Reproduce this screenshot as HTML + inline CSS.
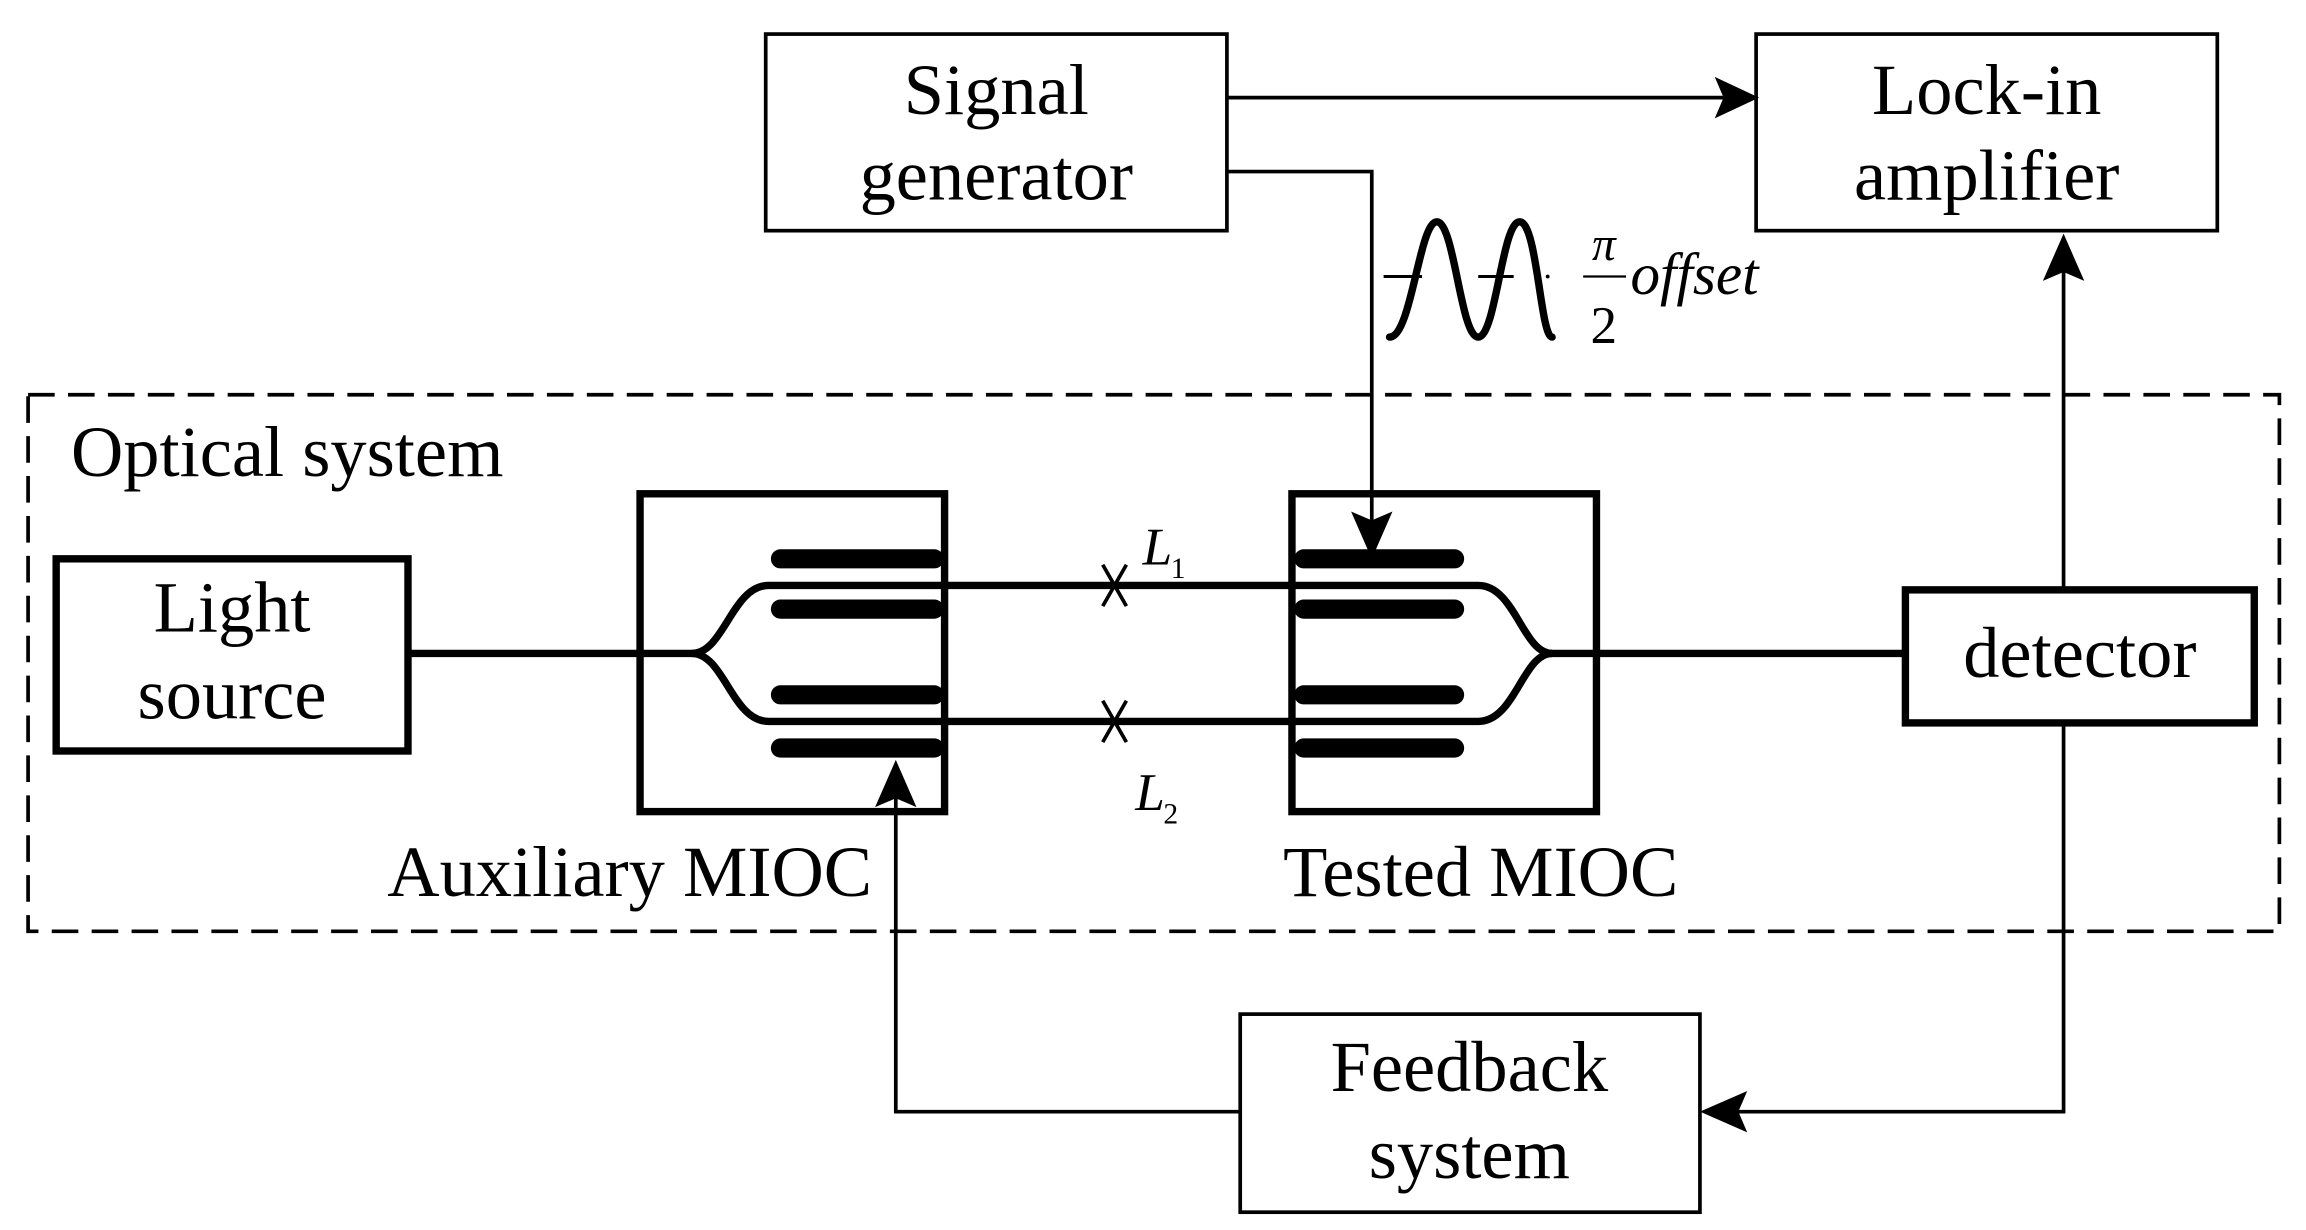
<!DOCTYPE html>
<html><head><meta charset="utf-8"><style>
html,body{margin:0;padding:0;background:#fff;}
svg{display:block;}
text{font-family:"Liberation Serif",serif;fill:#000;}
</style></head><body>
<svg width="2306" height="1230" viewBox="0 0 1560 832" xmlns="http://www.w3.org/2000/svg">
<rect width="1560" height="832" fill="#fff"/>
<!-- dashed optical system -->
<rect x="19" y="267" width="1523" height="363" fill="none" stroke="#000" stroke-width="2.5" stroke-dasharray="18,9"/>
<text x="48" y="322" font-size="49">Optical system</text>

<!-- Signal generator -->
<rect x="518" y="23" width="312" height="133" fill="none" stroke="#000" stroke-width="2.5"/>
<text x="674" y="77" font-size="49" text-anchor="middle">Signal</text>
<text x="674" y="135" font-size="49" text-anchor="middle">generator</text>
<!-- Lock-in -->
<rect x="1188" y="23" width="312" height="133" fill="none" stroke="#000" stroke-width="2.5"/>
<text x="1344" y="77" font-size="49" text-anchor="middle">Lock-in</text>
<text x="1344" y="135" font-size="49" text-anchor="middle">amplifier</text>
<!-- SG -> lockin -->
<line x1="830" y1="66" x2="1170" y2="66" stroke="#000" stroke-width="2.5"/>
<polygon points="1190,66 1160,52 1166,66 1160,80" fill="#000"/>
<!-- SG -> tested -->
<polyline points="830,116 928,116 928,360" fill="none" stroke="#000" stroke-width="2.5"/>
<polygon points="928,378 914,346 928,352 942,346" fill="#000"/>

<!-- sine -->
<path d="M940,228 C955,228 960,150 972,150 C984,150 988,228 1000,228 C1012,228 1016,150 1028,150 C1040,150 1042,228 1050,228" fill="none" stroke="#000" stroke-width="5" stroke-linecap="round"/>
<line x1="936" y1="187" x2="962" y2="187" stroke="#000" stroke-width="2"/>
<line x1="1000" y1="187" x2="1024" y2="187" stroke="#000" stroke-width="2"/>
<circle cx="1047" cy="187" r="1.3" fill="#000"/>
<text x="1085" y="176" font-size="32" font-style="italic" text-anchor="middle">π</text>
<line x1="1071" y1="187" x2="1100" y2="187" stroke="#000" stroke-width="1.5"/>
<text x="1085" y="232" font-size="36" text-anchor="middle">2</text>
<text x="1103" y="199" font-size="40" font-style="italic">offset</text>

<!-- Light source -->
<rect x="38" y="378" width="238" height="130" fill="none" stroke="#000" stroke-width="5"/>
<text x="157" y="427" font-size="49" text-anchor="middle">Light</text>
<text x="157" y="486" font-size="49" text-anchor="middle">source</text>
<line x1="276" y1="442" x2="470" y2="442" stroke="#000" stroke-width="5"/>

<!-- Aux MIOC -->
<rect x="433" y="334" width="206" height="215" fill="none" stroke="#000" stroke-width="5"/>
<!-- Tested MIOC -->
<rect x="874" y="334" width="206" height="215" fill="none" stroke="#000" stroke-width="5"/>

<!-- electrodes -->
<g stroke="#000" stroke-width="13" stroke-linecap="round">
<line x1="528" y1="378" x2="632" y2="378"/>
<line x1="528" y1="412" x2="632" y2="412"/>
<line x1="528" y1="470" x2="632" y2="470"/>
<line x1="528" y1="506" x2="632" y2="506"/>
<line x1="882" y1="378" x2="984" y2="378"/>
<line x1="882" y1="412" x2="984" y2="412"/>
<line x1="882" y1="470" x2="984" y2="470"/>
<line x1="882" y1="506" x2="984" y2="506"/>
</g>
<!-- waveguides -->
<path d="M468,442 C490,442 495,396 520,396 L1000,396 C1025,396 1030,442 1050,442" fill="none" stroke="#000" stroke-width="5"/>
<path d="M468,442 C490,442 495,488 520,488 L1000,488 C1025,488 1030,442 1050,442" fill="none" stroke="#000" stroke-width="5"/>
<line x1="1045" y1="442" x2="1288" y2="442" stroke="#000" stroke-width="5"/>
<!-- crosses -->
<g stroke="#000" stroke-width="2.5">
<line x1="746" y1="382" x2="762" y2="410"/><line x1="762" y1="382" x2="746" y2="410"/>
<line x1="746" y1="474" x2="762" y2="502"/><line x1="762" y1="474" x2="746" y2="502"/>
</g>
<text x="773" y="382" font-size="36" font-style="italic">L</text>
<text x="792" y="391" font-size="20">1</text>
<text x="768" y="548" font-size="36" font-style="italic">L</text>
<text x="787" y="557" font-size="20">2</text>

<text x="262" y="606" font-size="49">Auxiliary MIOC</text>
<text x="868" y="606" font-size="49">Tested MIOC</text>

<!-- Detector -->
<rect x="1289" y="399" width="236" height="90" fill="none" stroke="#000" stroke-width="5"/>
<text x="1407" y="458" font-size="49" text-anchor="middle">detector</text>
<line x1="1396" y1="399" x2="1396" y2="180" stroke="#000" stroke-width="2.5"/>
<polygon points="1396,158 1382,190 1396,184 1410,190" fill="#000"/>
<polyline points="1396,489 1396,752 1170,752" fill="none" stroke="#000" stroke-width="2.5"/>
<polygon points="1150,752 1182,738 1176,752 1182,766" fill="#000"/>

<!-- Feedback -->
<rect x="839" y="686" width="311" height="134" fill="none" stroke="#000" stroke-width="2.5"/>
<text x="994" y="738" font-size="49" text-anchor="middle">Feedback</text>
<text x="994" y="797" font-size="49" text-anchor="middle">system</text>
<polyline points="839,752 606,752 606,535" fill="none" stroke="#000" stroke-width="2.5"/>
<polygon points="606,514 592,546 606,540 620,546" fill="#000"/>
</svg>
</body></html>
